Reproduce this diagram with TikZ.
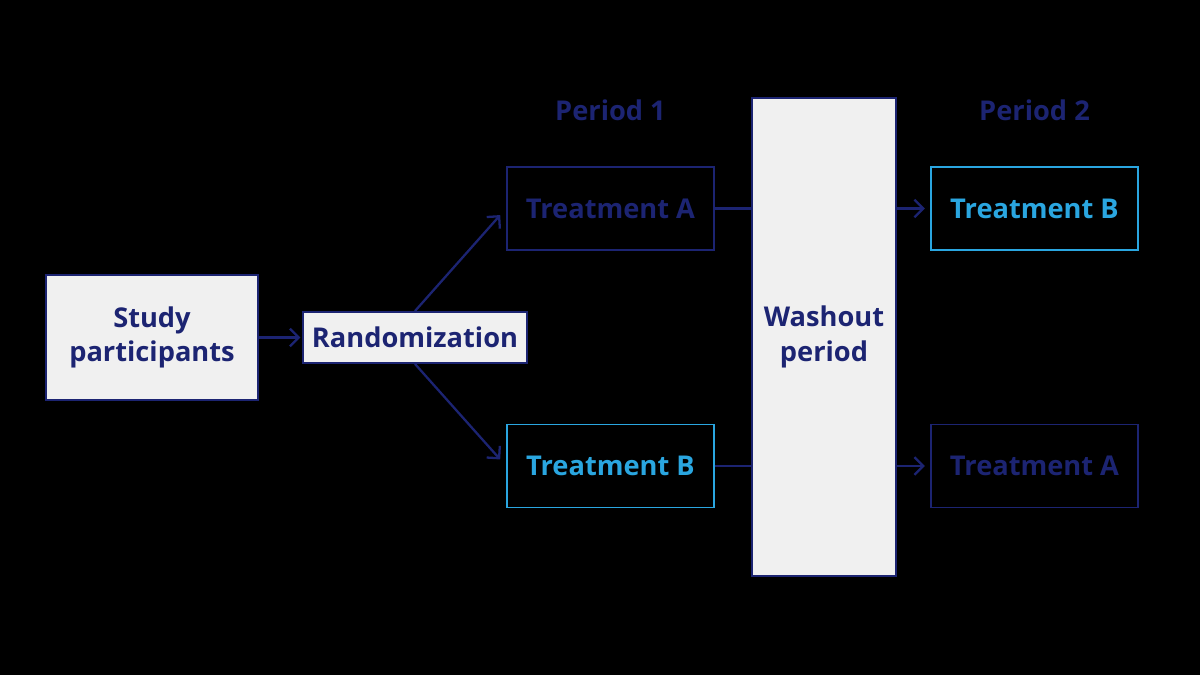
\documentclass[tikz,border=0pt]{standalone}
\usepackage{fontspec}
\setmainfont{Open Sans}
\usetikzlibrary{arrows.meta,positioning,calc}
\usepackage{xcolor}
\definecolor{navy}{HTML}{1C2472}
\definecolor{skyblue}{HTML}{2AA6E0}
\definecolor{boxgray}{HTML}{F0F0F0}

\begin{document}
\begin{tikzpicture}[
    every node/.style={font=\bfseries\fontsize{15.5}{19.5}\selectfont, align=center, inner sep=0pt},
    greybox/.style={draw=navy, fill=boxgray, text=navy, line width=1.1pt},
    navybox/.style={draw=navy, text=navy, line width=1.1pt, minimum width=4.14cm, minimum height=1.66cm},
    bluebox/.style={draw=skyblue, text=skyblue, line width=1.1pt, minimum width=4.14cm, minimum height=1.66cm},
    link/.style={navy, line width=1.3pt},
    arrowlink/.style={link, -{Straight Barb[length=5pt,width=10pt,line width=1.3pt]}, shorten >=3pt}
]
    % background
    \fill[black] (0,0) rectangle (24,13.5);
    \useasboundingbox (0,0) rectangle (24,13.5);

    % left side
    \node[greybox, minimum width=4.24cm, minimum height=2.5cm] (study) at (3.04,6.75) {Study\\participants};
    \node[greybox, minimum width=4.48cm, minimum height=1.02cm] (rand) at (8.30,6.75) {Randomization};

    % period 1
    \node[text=navy] (period1) at (12.21,11.3) {Period 1};
    \node[navybox] (trtA1) at (12.21,9.33) {Treatment A};
    \node[bluebox] (trtB1) at (12.21,4.18) {Treatment B};

    % washout
    \node[greybox, minimum width=2.88cm, minimum height=9.56cm] (wash) at (16.48,6.76) {Washout\\period};

    % period 2
    \node[text=navy] (period2) at (20.69,11.3) {Period 2};
    \node[bluebox] (trtB2) at (20.69,9.33) {Treatment B};
    \node[navybox] (trtA2) at (20.69,4.18) {Treatment A};

    % connectors
    \draw[arrowlink, shorten >=1pt] (study.east) -- (rand.west);
    \draw[arrowlink, shorten >=5pt] (rand.north) -- (trtA1.west);
    \draw[arrowlink, shorten >=5pt] (rand.south) -- (trtB1.west);
    \draw[link] (trtA1.east) -- (trtA1.east -| wash.west);
    \draw[link] (trtB1.east) -- (trtB1.east -| wash.west);
    \draw[arrowlink] (trtB2.west -| wash.east) -- (trtB2.west);
    \draw[arrowlink] (trtA2.west -| wash.east) -- (trtA2.west);
\end{tikzpicture}
\end{document}
